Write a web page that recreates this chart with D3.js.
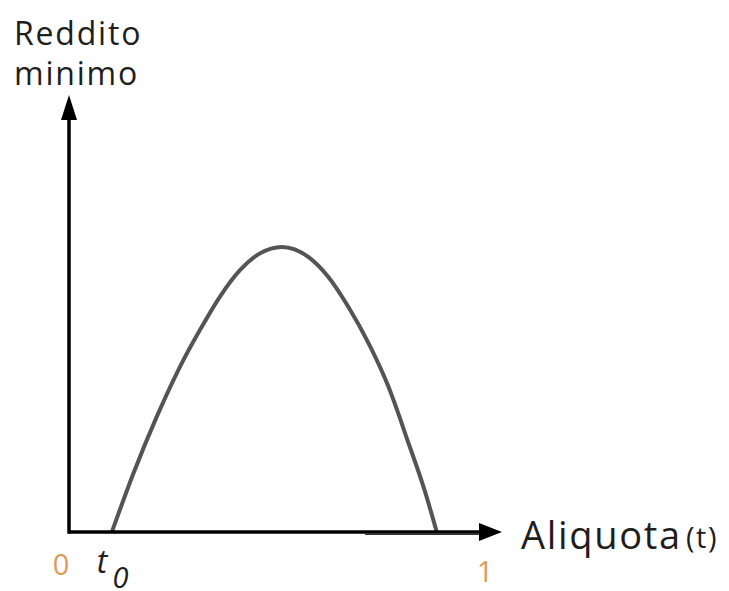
<!DOCTYPE html>
<html>
<head>
<meta charset="utf-8">
<script src="https://cdn.jsdelivr.net/npm/d3@7"></script>
<style>
  html, body { margin: 0; padding: 0; background: #fff; }
  svg { display: block; font-family: "Open Sans", "Noto Sans", sans-serif; }
</style>
</head>
<body>
<svg id="chart" width="729" height="591"></svg>
<script>
// Laffer-style curve: minimum income as a function of the tax rate t
const rateValues   = [0.103, 0.155, 0.211, 0.267, 0.315, 0.363, 0.411, 0.459, 0.512, 0.575, 0.623, 0.671, 0.720, 0.768, 0.816, 0.856, 0.884];
const incomeValues = [0.000, 0.136, 0.267, 0.383, 0.468, 0.545, 0.606, 0.645, 0.660, 0.637, 0.591, 0.522, 0.437, 0.336, 0.206, 0.093, 0.000];

// Axis labels and tick marks on the rate axis
const yTitle = ["Reddito", "minimo"];
const xTitle = "Aliquota";
const xTitleUnit = "(t)";
const tickValues = [0, 1];
const tickLabels = ["0", "1"];
const thresholdLabel = { base: "t", sub: "0" };

const svg = d3.select("#chart");

const originX = 69, originY = 532;
const x = d3.scaleLinear().domain([0, 1]).range([originX, 485]);
const y = d3.scaleLinear().domain([0, 1]).range([originY, 100]);

const points = rateValues.map((t, i) => ({ t, v: incomeValues[i] }));

// Curve
const line = d3.line()
  .x(d => x(d.t))
  .y(d => y(d.v))
  .curve(d3.curveMonotoneX);

svg.append("path")
  .datum(points)
  .attr("d", line)
  .attr("fill", "none")
  .attr("stroke", "#545454")
  .attr("stroke-width", 4)
  .attr("stroke-linecap", "butt");

// Axes with arrowheads
const axisColor = "#000";
const xTip = 502, yTip = 95;

svg.append("line")
  .attr("x1", originX).attr("y1", originY)
  .attr("x2", xTip - 20).attr("y2", originY)
  .attr("stroke", axisColor).attr("stroke-width", 3.5);

// slightly offset second stroke on the right part of the rate axis
svg.append("line")
  .attr("x1", 365).attr("y1", originY + 2)
  .attr("x2", xTip - 22).attr("y2", originY + 2)
  .attr("stroke", "#333").attr("stroke-width", 2);

svg.append("line")
  .attr("x1", originX).attr("y1", originY + 1.75)
  .attr("x2", originX).attr("y2", yTip + 20)
  .attr("stroke", axisColor).attr("stroke-width", 3.5);

svg.append("path")
  .attr("d", `M${xTip},${originY} L${xTip - 23},${originY - 9} L${xTip - 23},${originY + 9} Z`)
  .attr("fill", axisColor);

svg.append("path")
  .attr("d", `M${originX},${yTip} L${originX - 8},${yTip + 25} L${originX + 8},${yTip + 25} Z`)
  .attr("fill", axisColor);

// Y-axis title
svg.append("text")
  .attr("x", 14)
  .attr("y", 45)
  .attr("font-size", 32)
  .attr("letter-spacing", 1.8)
  .attr("fill", "#1e1e1e")
  .selectAll("tspan")
  .data(yTitle)
  .join("tspan")
  .attr("x", 14)
  .attr("dy", (d, i) => i === 0 ? 0 : 40)
  .text(d => d);

// X-axis title
svg.append("text")
  .attr("x", 521)
  .attr("y", 549)
  .attr("font-size", 38)
  .attr("letter-spacing", 1.7)
  .attr("fill", "#1e1e1e")
  .text(xTitle);
svg.append("text")
  .attr("x", 686)
  .attr("y", 548)
  .attr("font-size", 29)
  .attr("letter-spacing", 1.5)
  .attr("fill", "#1e1e1e")
  .text(xTitleUnit);

// Tick labels 0 and 1
svg.selectAll("text.tick")
  .data(tickValues)
  .join("text")
  .attr("class", "tick")
  .attr("x", (d, i) => x(d) + (i === 0 ? -8 : 0))
  .attr("y", (d, i) => i === 0 ? 575 : 582)
  .attr("text-anchor", "middle")
  .attr("font-size", 29)
  .attr("fill", "#E0995C")
  .text((d, i) => tickLabels[i]);

// Threshold rate t0 where the curve leaves the axis
const t0 = rateValues[0];
const tl = svg.append("text")
  .attr("x", x(t0) - 15)
  .attr("y", 573)
  .attr("font-size", 32)
  .attr("font-style", "italic")
  .attr("fill", "#1e1e1e");
tl.append("tspan").text(thresholdLabel.base);
tl.append("tspan").attr("dx", 5).attr("dy", 15).attr("font-size", 29).text(thresholdLabel.sub);
</script>
</body>
</html>
